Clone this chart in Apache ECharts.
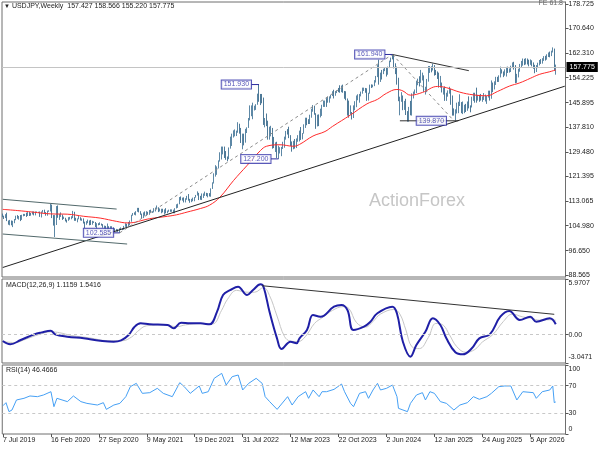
<!DOCTYPE html>
<html><head><meta charset="utf-8">
<script src="https://cdn.jsdelivr.net/npm/echarts@6/dist/echarts.min.js"></script>
<style>html,body{margin:0;padding:0;background:#fff}#c{width:600px;height:450px}</style>
</head><body><div id="c"></div>
<script>
// ---------- data ----------
const startDate = [2019, 6, 7];          // first weekly bar (7 Jul 2019)
const futureSlots = 6;                   // empty weeks at the right edge
const dateTicks = ['7 Jul 2019','16 Feb 2020','27 Sep 2020','9 May 2021','19 Dec 2021','31 Jul 2022','12 Mar 2023','22 Oct 2023','2 Jun 2024','12 Jan 2025','24 Aug 2025','5 Apr 2026'];
const priceTicks = [178.725,170.640,162.310,154.225,145.895,137.810,129.480,121.395,113.065,104.980,96.650,88.565];
const macdTicks = [5.9707,0,-3.0471];
const rsiTicks = [100,70,30,0];
const firstOpen = 108.5;
const closes = [
107.9,107.7,108.7,106.6,105.7,106.4,105.4,106.3,106.9,108.1,
107.6,107.9,106.9,108.3,108.4,108.7,108.2,109.3,108.8,108.7,
109.5,108.6,109.4,109.4,109.4,108.1,109.5,110.1,109.3,108.4,
109.8,109.8,111.6,108.1,105.4,108.0,110.8,107.9,108.5,108.5,
107.5,107.5,106.9,106.6,107.1,107.6,107.8,109.6,107.4,106.9,
107.2,107.5,106.9,107.0,106.1,105.9,105.9,106.6,105.8,105.4,
106.2,106.1,104.6,105.6,105.3,105.6,105.4,104.7,104.7,103.4,
104.6,103.9,104.1,104.2,104.0,103.3,103.6,103.2,103.9,103.9,
103.8,104.7,105.4,104.9,105.4,106.6,108.3,109.0,108.9,109.6,
110.7,109.7,108.8,107.9,109.3,108.6,109.4,108.9,109.8,109.5,
109.7,110.2,110.8,111.0,110.1,110.1,110.5,109.7,110.2,109.6,
109.8,109.8,109.7,109.9,109.9,110.7,111.0,112.2,114.2,113.5,
114.0,113.4,113.9,114.0,113.4,112.8,113.4,113.7,114.4,115.1,
115.5,114.2,113.7,115.2,115.2,115.4,115.0,115.6,114.8,117.3,
119.2,122.0,122.5,124.3,126.4,128.5,130.0,130.6,129.2,127.9,
127.1,130.9,134.4,135.0,135.2,135.2,136.1,138.6,136.1,133.2,
135.0,133.4,136.9,137.6,140.2,142.6,142.9,143.4,144.7,145.3,
148.7,147.7,147.5,146.6,138.8,140.4,138.9,134.3,136.6,136.7,
132.9,131.1,132.1,127.9,129.6,129.9,131.2,131.4,134.1,136.5,
135.9,135.0,131.8,130.7,132.9,132.2,133.8,134.1,136.3,134.8,
135.7,137.9,140.6,139.9,139.4,141.8,143.7,144.3,142.1,138.8,
141.8,141.2,141.8,144.9,145.4,146.4,146.2,147.8,147.9,148.4,
149.4,149.3,149.6,149.9,149.6,149.4,151.5,149.6,149.4,146.8,
144.9,142.2,142.4,141.0,144.6,144.9,148.1,148.1,148.4,149.3,
150.2,150.5,150.1,147.1,149.0,151.4,151.3,151.6,153.3,154.6,
158.3,153.0,155.8,155.7,157.0,157.3,155.5,157.4,159.8,160.9,
160.8,157.9,157.5,153.8,146.5,147.2,147.6,144.4,146.2,142.3,
140.8,143.9,142.2,148.7,149.1,149.5,152.3,153.0,152.6,154.3,
154.7,149.8,150.0,153.7,156.4,157.8,157.3,157.7,156.3,156.0,
155.2,151.4,152.3,149.3,150.6,148.0,148.6,149.3,149.8,146.9,
143.5,142.2,143.7,145.0,145.4,145.7,142.6,143.9,144.9,144.1,
146.1,144.6,144.5,147.4,148.8,147.7,147.4,147.7,147.2,146.9,
147.1,147.7,147.7,147.9,149.5,147.5,151.2,150.6,152.9,154.0,
153.4,154.5,156.4,156.2,155.3,155.8,157.7,156.5,156.8,157.9,
158.6,157.8,154.0,154.8,156.9,158.2,158.9,159.9,159.2,160.2,
159.5,159.1,159.6,158.8,157.8,156.6,157.9,158.8,159.5,159.3,
160.3,160.9,160.5,161.6,162.2,161.7,162.8,163.5,157.427,157.775];
const highs = [
109.0,108.3,108.8,109.3,106.7,106.9,106.7,106.6,107.2,108.3,
108.5,108.2,108.5,108.6,108.9,108.9,109.3,109.5,109.5,109.2,
109.7,109.7,109.7,109.7,109.6,109.7,109.7,110.2,110.3,109.5,
110.0,110.1,112.2,112.0,108.5,108.5,111.5,111.7,108.8,109.4,
108.7,108.0,107.6,107.0,107.8,107.9,108.1,109.9,109.6,107.6,
107.4,108.2,107.8,107.4,107.4,106.3,106.5,107.0,106.7,106.9,
106.6,106.4,106.2,105.8,105.8,106.1,105.7,105.5,105.0,104.9,
105.7,104.8,104.8,104.8,104.4,104.1,103.9,103.8,104.1,104.4,
104.1,104.9,105.8,105.6,106.2,106.7,108.6,109.2,109.4,109.8,
110.9,110.9,109.8,109.0,109.4,109.7,109.8,109.6,110.2,110.3,
109.8,110.8,111.0,111.7,111.1,110.7,110.6,110.6,110.4,110.8,
110.0,110.3,110.4,110.4,110.3,110.8,112.1,112.3,114.5,114.7,
114.3,114.4,114.1,114.9,115.5,113.9,113.9,114.3,114.5,115.2,
116.4,115.9,114.9,115.7,115.7,116.3,115.9,115.8,115.8,117.4,
119.4,122.4,125.1,124.7,126.7,129.4,131.3,131.3,131.3,129.8,
128.0,131.0,134.6,135.6,136.7,137.0,136.6,139.4,138.9,137.5,
135.6,135.6,137.2,137.7,140.8,145.0,145.0,145.9,144.9,145.4,
148.9,151.9,148.8,148.8,147.6,140.8,142.3,139.9,137.9,138.2,
137.5,134.5,132.7,132.9,131.6,131.1,131.2,132.9,134.6,136.5,
137.1,137.9,135.1,133.0,133.2,133.8,134.0,135.1,136.6,137.8,
135.8,138.7,140.9,140.9,140.4,141.9,143.9,145.1,144.9,142.4,
141.9,142.0,143.9,145.2,146.6,146.6,147.4,147.9,148.0,148.5,
149.7,150.2,149.8,150.0,150.8,151.7,151.6,151.9,149.8,149.7,
147.3,146.6,145.0,142.8,145.0,146.4,148.3,148.7,148.8,149.6,
150.9,150.9,150.8,150.7,149.2,151.9,152.0,151.9,153.4,154.8,
158.4,160.2,155.9,156.8,157.2,157.7,157.6,157.9,159.9,160.9,
161.9,161.8,159.0,157.9,154.2,147.9,149.4,148.3,146.5,147.2,
143.1,144.5,146.5,149.0,149.6,150.3,153.2,153.9,154.7,156.8,
155.9,155.0,151.2,153.8,158.1,158.1,158.0,158.9,158.4,156.8,
156.3,155.9,154.8,152.6,150.9,151.3,149.2,150.0,151.2,150.5,
148.3,144.0,143.7,145.9,146.2,148.7,146.1,146.3,145.2,145.5,
146.3,148.0,145.0,147.9,149.2,149.2,150.9,148.5,148.5,148.8,
148.0,149.1,148.6,148.1,149.9,149.9,153.3,152.6,153.0,154.5,
154.5,155.0,157.9,157.0,156.3,157.0,157.8,157.9,157.3,158.2,
159.3,159.5,158.4,155.5,157.2,158.8,159.8,160.6,160.5,160.7,
160.6,160.2,160.3,160.0,159.3,158.5,158.4,159.2,160.1,160.4,
160.7,161.4,161.5,162.0,162.6,162.9,163.2,164.3,163.9,158.566];
const lows = [
107.8,107.2,107.5,106.5,105.3,105.1,105.1,104.5,105.8,106.8,
107.3,107.0,106.5,106.9,108.1,108.2,107.9,108.2,108.2,108.3,
108.9,108.4,108.4,109.2,109.2,107.9,107.7,109.3,109.2,108.3,
108.3,109.6,109.7,107.5,105.0,101.2,105.2,107.6,106.9,107.9,
106.9,107.2,106.4,106.0,106.6,107.0,107.1,107.5,106.6,106.6,
106.1,107.1,106.7,106.6,105.7,104.2,105.3,105.8,105.1,105.2,
105.3,105.9,104.5,104.0,105.1,105.2,105.0,104.3,104.0,103.2,
103.2,103.7,103.9,103.9,103.8,102.9,103.0,102.9,102.6,103.5,
103.5,103.6,104.6,104.4,104.8,105.1,106.3,108.3,108.6,108.4,
109.6,109.4,108.6,107.5,107.5,108.3,108.3,108.6,108.6,109.3,
109.2,109.4,109.7,110.4,109.5,109.7,109.1,109.4,108.7,109.1,
109.1,109.6,109.6,109.6,109.1,109.1,110.7,110.9,112.1,113.4,
113.3,112.7,112.7,113.6,113.3,112.6,112.9,113.1,113.1,114.3,
115.0,113.5,113.6,113.5,114.2,114.9,114.8,114.4,114.7,114.6,
117.2,119.0,121.3,121.9,124.0,126.3,127.0,128.7,127.5,126.9,
126.4,127.2,130.6,131.5,134.3,134.7,134.8,135.9,135.6,132.5,
130.4,131.7,132.6,135.8,137.5,140.0,141.4,140.4,143.3,143.5,
145.2,146.2,145.1,145.7,138.5,137.7,138.1,133.6,133.6,134.7,
130.6,130.8,129.5,127.5,127.2,129.0,128.1,130.5,130.9,133.6,
135.3,134.1,131.5,129.6,130.4,130.6,130.8,132.9,133.0,133.5,
133.7,135.6,137.5,138.4,138.8,138.8,140.9,142.9,141.9,137.2,
138.0,138.1,141.0,141.5,144.5,144.5,144.5,145.9,145.9,147.3,
148.1,147.3,148.2,149.1,149.4,149.2,149.4,149.2,147.2,146.7,
141.6,140.9,141.9,140.3,140.8,143.4,144.4,146.7,145.9,148.0,
148.9,149.8,149.2,146.5,146.6,148.9,150.8,151.0,151.4,152.6,
154.4,151.9,152.8,153.6,155.4,156.4,154.6,155.2,157.4,159.4,
160.3,157.3,155.4,151.9,146.4,141.7,146.2,143.4,143.5,141.8,
139.6,139.6,141.7,141.6,147.3,148.8,149.1,151.7,151.3,152.5,
153.3,149.5,148.6,149.4,152.9,155.8,156.0,156.6,154.9,155.1,
153.8,150.9,150.9,149.3,148.6,146.5,146.5,147.9,148.9,145.2,
141.6,141.6,139.9,142.3,142.4,144.8,142.4,142.1,142.4,142.8,
143.2,144.0,142.7,144.3,146.5,145.9,145.9,146.6,146.2,146.6,
146.2,146.8,146.3,145.5,147.6,146.6,147.2,149.4,150.3,151.8,
152.8,152.8,154.3,155.6,154.4,154.9,154.6,155.8,155.9,156.1,
157.4,156.9,152.4,152.5,154.3,156.2,157.5,158.2,158.4,158.6,
158.6,158.0,158.5,158.0,157.2,155.7,156.1,157.4,158.3,158.8,
158.9,159.8,159.9,160.2,161.1,161.0,161.4,162.6,156.5,155.22];
// moving average: [week index, value]
const maPts = [[0,110.4],[10,110.0],[20,109.5],[32,108.9],[43,108.8],[54,108.1],[65,107.5],[76,106.4],[83,105.9],[87,106.0],[92,106.6],[98,107.3],[110,108.1],[116,108.6],[123,109.5],[132,110.7],[138,111.8],[145,114.5],[154,120.0],[163,125.0],[172,130.0],[176,131.4],[185,131.9],[194,131.4],[198,132.0],[207,134.8],[215,136.3],[220,138.0],[232,141.8],[243,145.5],[250,147.0],[256,149.0],[263,150.3],[267,149.8],[272,148.4],[280,149.3],[290,151.3],[296,150.9],[305,149.4],[314,148.5],[323,148.2],[330,149.6],[338,151.4],[345,152.5],[352,154.0],[358,155.3],[365,156.2],[369,156.8]];
const macdPts = [[0,-0.69],[5,-1.04],[12,-0.58],[21,0.03],[26,0.24],[32,0.42],[35,0.03],[43,-0.22],[54,-0.40],[65,-0.65],[74,-0.76],[79,-0.61],[84,-0.04],[88,0.85],[92,1.21],[98,1.10],[110,1.03],[114,0.68],[119,1.28],[125,1.21],[132,1.21],[138,1.10],[143,2.46],[147,4.25],[152,4.79],[157,5.14],[163,4.25],[167,4.79],[172,5.40],[174,5.14],[178,2.46],[183,-0.40],[186,-1.55],[192,-0.76],[196,-0.93],[198,-0.40],[203,0.49],[207,2.10],[212,1.92],[221,3.00],[226,3.18],[230,2.64],[234,0.49],[241,0.85],[245,1.32],[250,2.29],[260,3.00],[263,2.29],[267,-0.76],[272,-2.37],[276,-1.12],[282,0.31],[287,1.75],[292,1.03],[296,-0.40],[302,-1.90],[307,-2.12],[313,-1.47],[318,-0.40],[325,0.03],[332,1.92],[338,2.53],[345,1.57],[352,1.92],[356,1.39],[365,1.75],[369,1.1159]];
const signalPts = [[0,-0.75],[8,-0.85],[16,-0.45],[24,0.0],[32,0.30],[38,0.20],[46,-0.10],[58,-0.35],[70,-0.65],[80,-0.65],[86,-0.25],[90,0.35],[96,0.95],[108,1.05],[116,0.85],[122,1.05],[132,1.18],[140,1.15],[146,2.6],[150,3.8],[156,4.75],[163,4.55],[168,4.55],[174,5.05],[178,4.2],[183,2.0],[188,-0.2],[192,-0.7],[197,-0.75],[202,-0.2],[208,1.2],[213,1.8],[220,2.6],[227,3.0],[231,2.8],[236,1.3],[242,0.8],[247,1.4],[252,2.2],[261,2.7],[265,2.2],[269,0.5],[273,-1.3],[278,-1.5],[284,-0.3],[289,1.2],[294,1.0],[298,0.0],[303,-1.3],[309,-1.9],[315,-1.6],[320,-0.8],[327,0.0],[334,1.4],[340,2.2],[347,1.9],[353,1.75],[358,1.55],[365,1.6],[369,1.5416]];
const rsiPts = [[0,41],[2,45.4],[4,32.4],[6,34.8],[9,49.3],[14,51.7],[18,55.1],[23,54.1],[27,56.5],[32,61.3],[34,39.6],[36,51.7],[43,46.9],[47,55.1],[52,46.9],[56,44.4],[63,42.0],[67,45.4],[69,35.7],[74,42.0],[78,44.4],[82,54.1],[85,68.6],[89,73.4],[93,58.9],[98,59.9],[103,66.2],[107,58.9],[113,54.1],[118,74.4],[121,68.6],[125,58.9],[131,69.6],[133,58.9],[137,61.3],[141,80.7],[146,87.9],[149,71.0],[153,83.1],[157,85.5],[160,63.8],[164,73.4],[169,80.7],[173,73.4],[175,54.1],[178,46.9],[183,35.7],[190,54.1],[193,42.0],[197,54.1],[202,61.3],[204,51.7],[207,63.8],[211,54.1],[213,61.3],[216,61.3],[221,64.7],[226,72.4],[228,61.3],[232,44.4],[234,39.6],[238,58.9],[242,61.3],[244,51.7],[247,63.8],[250,73.4],[252,63.8],[256,66.2],[260,71.0],[263,54.1],[264,37.2],[267,34.8],[270,32.4],[272,44.4],[276,56.5],[280,59.9],[282,49.3],[285,61.3],[288,58.9],[292,46.9],[296,44.4],[301,34.8],[305,42.0],[310,45.4],[314,54.1],[318,50.3],[323,54.1],[326,58.9],[331,68.6],[335,69.6],[339,69.6],[343,49.3],[347,61.3],[354,59.9],[356,51.7],[360,61.3],[365,63.8],[367,69.6],[368,45.5],[369,46.4666]];
// drawn lines (week index, price)
const supportLine = [[0,91.06],[375,151.38]];
const channelUpper = [[0,113.75],[76,110.5]];
const channelLower = [[0,102.2],[83,98.87]];
const fibUp = [[78,102.59],[260,161.94]];
const fibDown = [[260,161.94],[301,139.9]];
const topLine = [[260,161.94],[311,156.55]];
const floorLine = [[265,139.87],[304,139.87]];
const floorLabel = [[286,139.87]];
const pivots = [[166,171,151.930],[255,260,161.940],[179,184,127.200],[74,78,102.585]];
const macdTrend = [[173,5.25],[368,2.18]];

// ---------- build ----------
const MON = ['Jan','Feb','Mar','Apr','May','Jun','Jul','Aug','Sep','Oct','Nov','Dec'];
const nCat = closes.length + futureSlots;
const t0 = Date.UTC(startDate[0], startDate[1], startDate[2]);
const categories = [];
for (let i = 0; i < nCat; i++) {
  const d = new Date(t0 + i * 7 * 86400000);
  categories.push(d.getUTCDate() + ' ' + MON[d.getUTCMonth()] + ' ' + d.getUTCFullYear());
}
const tickSet = new Set(dateTicks);
const candles = closes.map((c, i) => {
  const o = i ? closes[i - 1] : firstOpen;
  return [o, c, Math.min(lows[i], o, c), Math.max(highs[i], o, c)];
});
const last = candles[candles.length - 1];
const FONT = 'Liberation Sans';
const G = [
  {left: 2, right: 34.5, top: 2, height: 275},
  {left: 2, right: 34.5, top: 279, height: 84},
  {left: 2, right: 34.5, top: 365, height: 69}
];
const gridStyle = {show: true, borderColor: '#6e6e6e', borderWidth: 1, backgroundColor: '#fff'};
function xAx(i, showLabels) {
  return {
    type: 'category', gridIndex: i, data: categories, boundaryGap: true,
    axisLine: {show: false},
    axisTick: {show: showLabels, alignWithLabel: true, length: 3, lineStyle: {color: '#555'}, interval: (idx, v) => tickSet.has(v)},
    axisLabel: {show: showLabels, interval: (idx, v) => tickSet.has(v), align: 'left', margin: 3, fontSize: 7, color: '#222', fontFamily: FONT},
    splitLine: {show: false}
  };
}
function edgeFmt(fmt, maxV, minV) {
  return v => {
    const s = fmt(v);
    if (v === maxV) return '{t|' + s + '}';
    if (v === minV) return '{b|' + s + '}';
    return s;
  };
}
function yAx(i, min, max, ticks, fmt, padTop, padBot) {
  return {
    type: 'value', gridIndex: i, position: 'right', min: min, max: max, scale: true,
    axisLine: {show: true, lineStyle: {color: '#6e6e6e'}},
    axisTick: {show: true, length: 3, customValues: ticks, lineStyle: {color: '#555'}},
    axisLabel: {
      customValues: ticks, fontSize: 7, margin: 3, color: '#222', fontFamily: FONT,
      formatter: edgeFmt(fmt, Math.max(...ticks), Math.min(...ticks)),
      rich: {t: {fontSize: 7, fontFamily: FONT, color: '#222', padding: [padTop, 0, 0, 0]},
             b: {fontSize: 7, fontFamily: FONT, color: '#222', padding: [0, 0, padBot, 0]}}
    },
    splitLine: {show: false}
  };
}
function seg(data, color, type, xi, yi) {
  return {type: 'line', data: data, xAxisIndex: xi || 0, yAxisIndex: yi || 0, symbol: 'none', silent: true,
    lineStyle: {color: color, width: 1, type: type || 'solid'}, z: 4, animation: false};
}
const labelBox = {fontSize: 7, fontFamily: FONT, color: '#2e2ea8', backgroundColor: '#fff', borderColor: '#2e2ea8', borderWidth: 1, padding: [1, 2, 0, 2]};
const series = [
  {type: 'candlestick', data: candles, xAxisIndex: 0, yAxisIndex: 0, barWidth: 1, z: 3,
    itemStyle: {color: '#6690ad', color0: '#5a85a3', borderColor: '#5d88a6', borderColor0: '#4f7a98', borderWidth: 1},
    markLine: {silent: true, symbol: ['none', 'none'], animation: false, precision: 3,
      data: [{yAxis: last[1]}],
      lineStyle: {color: '#c4c4c4', width: 1, type: 'solid'},
      label: {show: true, position: 'end', distance: 1, formatter: () => last[1].toFixed(3), color: '#fff', backgroundColor: '#000', padding: [2, 3, 1, 3], fontSize: 7, fontFamily: FONT}}},
  {type: 'line', data: maPts, smooth: 0.4, symbol: 'none', silent: true, lineStyle: {color: '#ff2b2b', width: 1}, z: 4},
  seg(supportLine, '#222'),
  seg(channelUpper, '#52696b'),
  seg(channelLower, '#52696b'),
  seg(fibUp, '#8c8c8c', [3, 3]),
  seg(fibDown, '#8c8c8c', [3, 3]),
  seg(topLine, '#333'),
  seg(floorLine, '#333')
];
pivots.forEach(p => {
  series.push(seg([[p[0], p[2]], [p[1], p[2]]], '#2c2c9e'));
  series.push({type: 'scatter', data: [[p[0], p[2]]], symbolSize: 1, itemStyle: {color: 'rgba(0,0,0,0)'}, z: 6, silent: true,
    label: Object.assign({show: true, position: 'left', distance: 0, formatter: q => q.value[1].toFixed(3)}, labelBox)});
});
series.push({type: 'scatter', data: floorLabel, symbolSize: 1, itemStyle: {color: 'rgba(0,0,0,0)'}, z: 6, silent: true,
  label: Object.assign({show: true, position: 'inside', formatter: q => q.value[1].toFixed(3)}, labelBox)});
// MACD
series.push({type: 'line', data: signalPts, xAxisIndex: 1, yAxisIndex: 1, smooth: 0.4, symbol: 'none', silent: true, lineStyle: {color: '#c6c6c6', width: 1}, z: 3,
  markLine: {silent: true, symbol: ['none', 'none'], label: {show: false}, data: [{yAxis: 0}], lineStyle: {color: '#c8c8c8', type: [3, 3], width: 1}}});
series.push({type: 'line', data: macdPts, xAxisIndex: 1, yAxisIndex: 1, smooth: 0.4, symbol: 'none', silent: true, lineStyle: {color: '#1f1fa6', width: 2}, z: 4});
series.push(seg(macdTrend, '#333', 'solid', 1, 1));
// RSI
series.push({type: 'line', data: rsiPts, xAxisIndex: 2, yAxisIndex: 2, symbol: 'none', silent: true, lineStyle: {color: '#45a0f5', width: 1}, z: 4,
  markLine: {silent: true, symbol: ['none', 'none'], label: {show: false}, data: [{yAxis: 70}, {yAxis: 30}], lineStyle: {color: '#c8c8c8', type: [3, 3], width: 1}}});

const chart = echarts.init(document.getElementById('c'), null, {renderer: 'canvas'});
chart.setOption({
  animation: false,
  backgroundColor: '#fff',
  title: [
    {text: '{a|▼} USDJPY,Weekly  ' + last[0].toFixed(3) + ' ' + last[3].toFixed(3) + ' ' + last[2].toFixed(3) + ' ' + last[1].toFixed(3),
      left: 4, top: 3, padding: 0, textStyle: {fontSize: 7, fontWeight: 'normal', color: '#222', fontFamily: FONT, rich: {a: {fontSize: 6, color: '#222'}}}},
    {text: 'FE 61.8', right: 37, top: 0, padding: 0, textStyle: {fontSize: 7, fontWeight: 'normal', color: '#666', fontFamily: FONT}},
    {text: 'ActionForex', left: 369, top: 192, padding: 0, textStyle: {fontSize: 18, fontWeight: 'normal', color: '#c6c6c6', fontFamily: FONT}},
    {text: 'MACD(12,26,9) ' + macdPts[macdPts.length - 1][1].toFixed(4) + ' ' + signalPts[signalPts.length - 1][1].toFixed(4),
      left: 6, top: 282, padding: 0, textStyle: {fontSize: 7, fontWeight: 'normal', color: '#222', fontFamily: FONT}},
    {text: 'RSI(14) ' + rsiPts[rsiPts.length - 1][1].toFixed(4),
      left: 6, top: 367, padding: 0, textStyle: {fontSize: 7, fontWeight: 'normal', color: '#222', fontFamily: FONT}}
  ],
  grid: G.map(g => Object.assign({}, g, gridStyle)),
  xAxis: [xAx(0, false), xAx(1, false), xAx(2, true)],
  yAxis: [
    yAx(0, 87.9, 179.4, priceTicks, v => v.toFixed(3), 0, 0),
    yAx(1, -3.0471, 5.9707, macdTicks, v => v === 0 ? '0.00' : v.toFixed(4), 9, 12),
    yAx(2, 0, 100, rsiTicks, v => String(v), 9, 9)
  ],
  series: series
});
</script>
</body></html>
